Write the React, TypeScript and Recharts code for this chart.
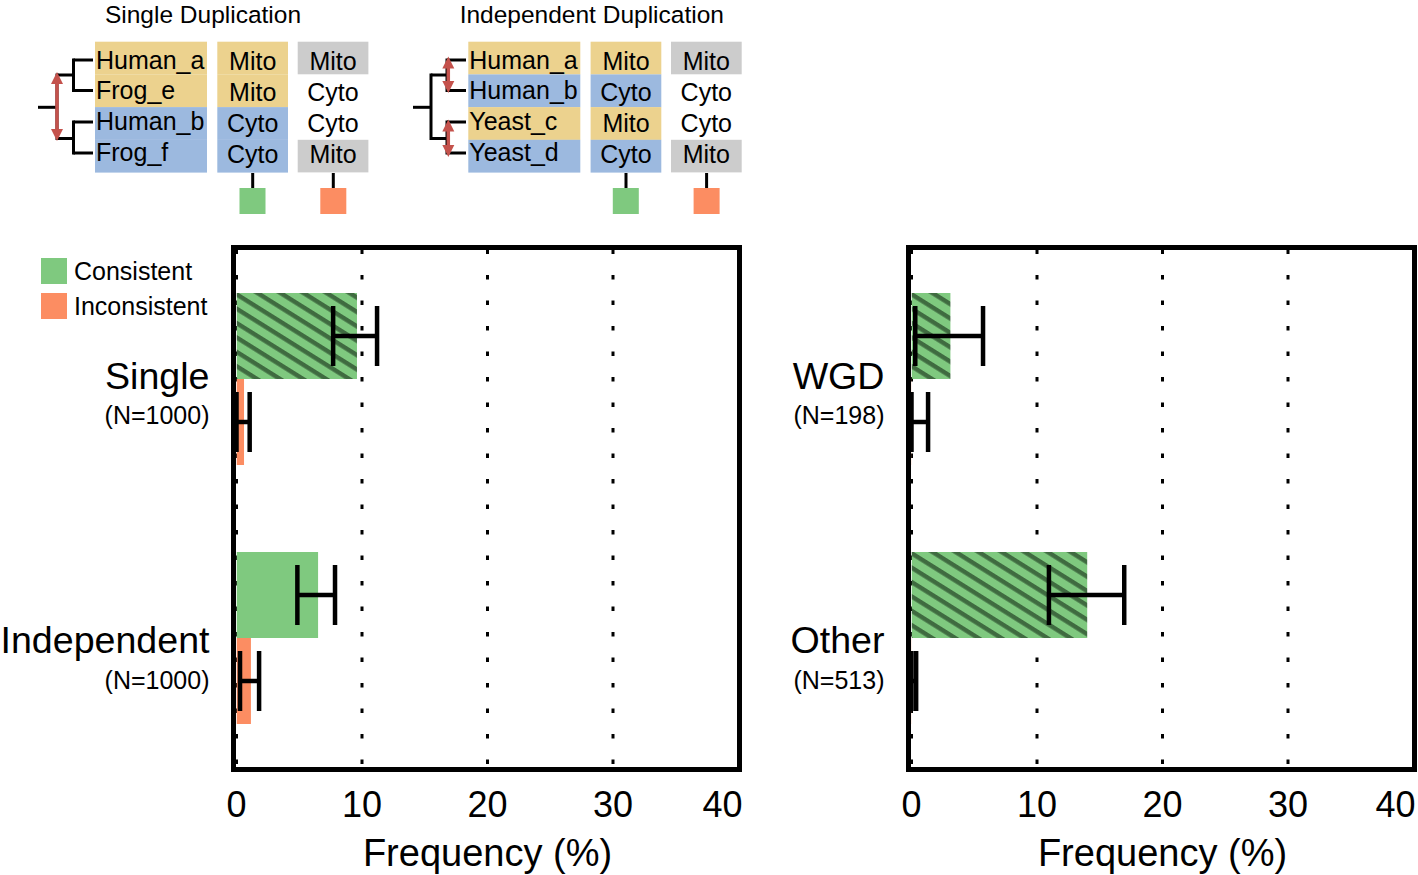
import React from "react"
import { BarChart, Bar, XAxis, YAxis, CartesianGrid, ErrorBar, Cell, Legend } from "recharts"

const FONT = '"Liberation Sans", Arial, Helvetica, sans-serif'

// left panel: duplication mode
const leftCategories = ["Single", "Independent"]
const leftCounts = [1000, 1000]
const leftConsistent = [9.6, 6.5]
const leftConsistentErr = [[1.9, 1.6], [1.65, 1.35]]
const leftInconsistent = [0.6, 1.15]
const leftInconsistentErr = [[0.6, 0.45], [0.87, 0.65]]

// right panel: duplication type
const rightCategories = ["WGD", "Other"]
const rightCounts = [198, 513]
const rightConsistent = [3.1, 14.0]
const rightConsistentErr = [[2.8, 2.6], [3.05, 2.95]]
const rightInconsistent = [0.02, 0.02]
const rightInconsistentErr = [[0.02, 1.3], [0.02, 0.35]]

const hatchedCategories = ["Single", "WGD", "Other"]
const xTicks = [0, 10, 20, 30, 40]
const legendLabels = ["Consistent", "Inconsistent"]

// schematic above the charts
const singleGenes = ["Human_a", "Frog_e", "Human_b", "Frog_f"]
const singleLoc = ["Mito", "Mito", "Cyto", "Cyto"]
const singleAlt = ["Mito", "Cyto", "Cyto", "Mito"]
const indepGenes = ["Human_a", "Human_b", "Yeast_c", "Yeast_d"]
const indepLoc = ["Mito", "Cyto", "Mito", "Cyto"]
const indepAlt = ["Mito", "Cyto", "Cyto", "Mito"]

const GREEN = "#7fc97f"
const STRIPE = "#3f6b40"
const ORANGE = "#fc8d62"
const YELLOW = "#ecd28e"
const BLUE = "#9cb9df"
const GREY = "#cccccc"
const RED = "#c4524c"

const PLOT_LEFT = 236.5

const buildRows = (cats, counts, cons, consErr, inc, incErr) =>
  cats.map((name, i) => ({
    name,
    n: counts[i],
    consistent: cons[i],
    consistentErr: consErr[i],
    inconsistent: inc[i],
    inconsistentErr: incErr[i],
  }))

const leftRows = buildRows(leftCategories, leftCounts, leftConsistent, leftConsistentErr, leftInconsistent, leftInconsistentErr)
const rightRows = buildRows(rightCategories, rightCounts, rightConsistent, rightConsistentErr, rightInconsistent, rightInconsistentErr)

function CategoryTick(props) {
  const { y, payload, rows } = props
  const idx = rows.findIndex((r) => r.name === payload.value)
  const row = rows[idx]
  const x = PLOT_LEFT - 27
  return (
    <g>
      <text x={x} y={y + (idx === 0 ? 10 : 15)} textAnchor="end" fontSize={37.6} fill="#000">
        {payload.value}
      </text>
      <text x={x} y={y + (idx === 0 ? 44.5 : 51)} textAnchor="end" fontSize={25} fill="#000">
        (N={row ? row.n : ""})
      </text>
    </g>
  )
}

function FreqTick(props) {
  const { x, payload, index } = props
  const last = index === xTicks.length - 1
  return (
    <text x={last ? x + 5.5 : x} y={817} textAnchor={last ? "end" : "middle"} fontSize={36} fill="#000">
      {payload.value}
    </text>
  )
}

function LegendBox() {
  return (
    <div style={{ fontFamily: FONT, fontSize: 25, color: "#000" }}>
      {legendLabels.map((label, i) => (
        <div key={label} style={{ display: "flex", alignItems: "center", height: 26, marginBottom: i === 0 ? 9 : 0 }}>
          <span style={{ display: "inline-block", width: 26, height: 26, background: i === 0 ? GREEN : ORANGE, marginRight: 7 }} />
          {label}
        </div>
      ))}
    </div>
  )
}

function Panel({ id, rows, left, width, showLegend }) {
  return (
    <div style={{ position: "absolute", left, top: 0, width, height: 875 }}>
      <BarChart
        width={width}
        height={875}
        data={rows}
        layout="vertical"
        margin={{ top: 249.5, right: width - 738.5, bottom: 7.5, left: 0 }}
        barCategoryGap={43.5}
        barGap={0}
      >
        <defs>
          <pattern id={`hatch-${id}`} patternUnits="userSpaceOnUse" width="12" height="12.2" patternTransform="rotate(32)">
            <rect width="12" height="12.2" fill={GREEN} />
            <rect width="12" height="4.4" fill={STRIPE} />
          </pattern>
        </defs>
        <CartesianGrid horizontal={false} stroke="#000" strokeWidth={3} strokeDasharray="4.5 21" />
        <XAxis
          type="number"
          domain={[0, 40]}
          ticks={xTicks}
          allowDataOverflow
          axisLine={false}
          tickLine={false}
          height={100}
          tick={(p) => <FreqTick {...p} />}
          label={{ value: "Frequency (%)", position: "insideBottom", offset: 1.5, fontSize: 38, fill: "#000" }}
        />
        <YAxis
          type="category"
          dataKey="name"
          width={PLOT_LEFT}
          axisLine={false}
          tickLine={false}
          tick={(p) => <CategoryTick {...p} rows={rows} />}
        />
        {showLegend && (
          <Legend
            layout="vertical"
            align="center"
            verticalAlign="middle"
            wrapperStyle={{ left: 41, top: 258, width: "auto", height: "auto" }}
            content={() => <LegendBox />}
          />
        )}
        <Bar dataKey="consistent" name="Consistent" fill={GREEN} isAnimationActive={false}>
          {rows.map((r) => (
            <Cell key={r.name} fill={hatchedCategories.includes(r.name) ? `url(#hatch-${id})` : GREEN} />
          ))}
          <ErrorBar dataKey="consistentErr" direction="x" width={30} stroke="#000" strokeWidth={4.5} isAnimationActive={false} />
        </Bar>
        <Bar dataKey="inconsistent" name="Inconsistent" fill={ORANGE} isAnimationActive={false}>
          <ErrorBar dataKey="inconsistentErr" direction="x" width={30} stroke="#000" strokeWidth={4.5} isAnimationActive={false} />
        </Bar>
      </BarChart>
      <div
        style={{
          position: "absolute",
          left: 231,
          top: 245,
          width: 511,
          height: 527,
          border: "5px solid #000",
          boxSizing: "border-box",
          pointerEvents: "none",
        }}
      />
    </div>
  )
}

function DoubleArrow({ x, y1, y2 }) {
  const h = 12
  const w = 6
  return (
    <g fill={RED} stroke="none">
      <line x1={x} y1={y1 + h - 1} x2={x} y2={y2 - h + 1} stroke={RED} strokeWidth={3.5} />
      <polygon points={`${x},${y1} ${x - w},${y1 + h} ${x + w},${y1 + h}`} />
      <polygon points={`${x},${y2} ${x - w},${y2 - h} ${x + w},${y2 - h}`} />
    </g>
  )
}

function Schematic({ dx, title, genes, loc, alt, independent }) {
  const rowTop = (i) => 41.7 + i * 32.7
  const tipY = [60, 90.5, 122, 153]
  const line = { stroke: "#000", strokeWidth: 3 }
  const rootX = independent ? 431 - dx : 57
  const innerX = independent ? 447 - dx : 73.5
  const tipEnd = independent ? 466 - dx : 93
  return (
    <g transform={`translate(${dx},0)`}>
      <text x={independent ? 218.5 : 203} y={22.5} textAnchor="middle" fontSize={24.5} fill="#000">
        {title}
      </text>
      {genes.map((g, i) => (
        <g key={g + i}>
          <rect x={95} y={rowTop(i)} width={112} height={32.8} fill={loc[i] === "Mito" ? YELLOW : BLUE} />
          <rect x={217.3} y={rowTop(i)} width={70.7} height={32.8} fill={loc[i] === "Mito" ? YELLOW : BLUE} />
          {alt[i] === "Mito" && <rect x={297.7} y={rowTop(i)} width={70.7} height={32.6} fill={GREY} />}
          <text x={96} y={68.5 + 30.8 * i} fontSize={25} fill="#000">
            {g}
          </text>
          <text x={252.7} y={70 + 31 * i} textAnchor="middle" fontSize={25} fill="#000">
            {loc[i]}
          </text>
          <text x={333} y={70 + 31 * i} textAnchor="middle" fontSize={25} fill="#000">
            {alt[i]}
          </text>
        </g>
      ))}
      <line x1={252.7} y1={173} x2={252.7} y2={188} {...line} />
      <rect x={239.5} y={188} width={26} height={26} fill={GREEN} />
      <line x1={333.3} y1={173} x2={333.3} y2={188} {...line} />
      <rect x={320.3} y={188} width={26} height={26} fill={ORANGE} />
      {/* tree */}
      <line x1={independent ? 413 - dx : 38} y1={107.3} x2={rootX} y2={107.3} {...line} />
      <line x1={rootX} y1={73.5} x2={rootX} y2={140} {...line} />
      <line x1={rootX} y1={75} x2={innerX} y2={75} {...line} />
      <line x1={rootX} y1={138.5} x2={innerX} y2={138.5} {...line} />
      <line x1={innerX} y1={58.5} x2={innerX} y2={92} {...line} />
      <line x1={innerX} y1={120.5} x2={innerX} y2={154.5} {...line} />
      {tipY.map((ty) => (
        <line key={ty} x1={innerX} y1={ty} x2={tipEnd} y2={ty} {...line} />
      ))}
      {independent ? (
        <>
          <DoubleArrow x={448.3 - dx} y1={56.5} y2={93} />
          <DoubleArrow x={448.3 - dx} y1={119.5} y2={157} />
        </>
      ) : (
        <DoubleArrow x={57} y1={72} y2={141} />
      )}
    </g>
  )
}

export default function App() {
  return (
    <div
      style={{
        position: "absolute",
        left: 0,
        top: 0,
        width: 1418,
        height: 875,
        overflow: "hidden",
        background: "#fff",
        fontFamily: FONT,
      }}
    >
      <svg width={760} height={220} style={{ position: "absolute", left: 0, top: 0 }} fontFamily={FONT}>
        <Schematic dx={0} title="Single Duplication" genes={singleGenes} loc={singleLoc} alt={singleAlt} />
        <Schematic dx={373.3} title="Independent Duplication" genes={indepGenes} loc={indepLoc} alt={indepAlt} independent />
      </svg>
      <Panel id="left" rows={leftRows} left={0} width={745} showLegend />
      <Panel id="right" rows={rightRows} left={675} width={743} showLegend={false} />
    </div>
  )
}
